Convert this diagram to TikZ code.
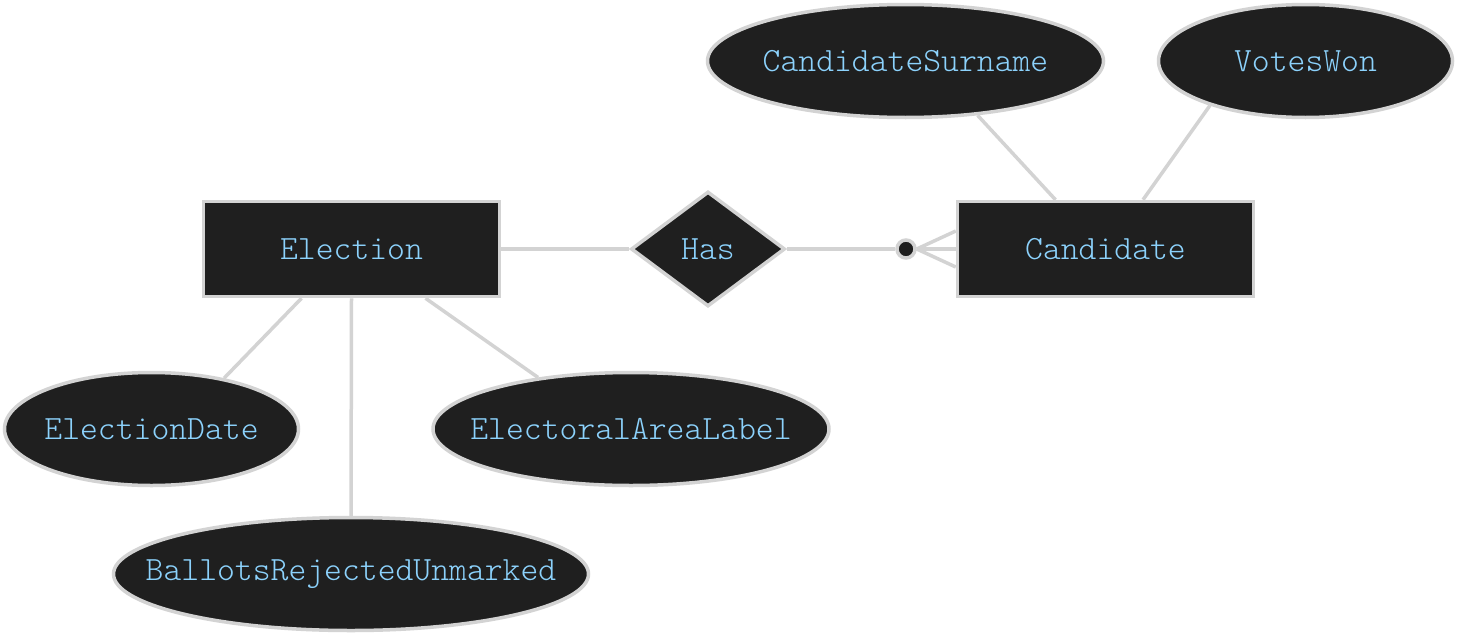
\documentclass[tikz,border=0pt]{standalone}
\usepackage{fontspec}
\setmonofont{Latin Modern Mono Light}
\usepackage{xcolor}
\usepackage{tikz}
\usetikzlibrary{shapes.geometric,positioning}
\definecolor{erfill}{HTML}{1F1F1F}
\definecolor{erline}{HTML}{D3D3D3}
\definecolor{ertext}{HTML}{8CD2FC}
\newcommand{\ername}[1]{\makebox[0pt]{#1}}
\tikzset{
  ernode/.style={draw=erline,fill=erfill,line width=3.5pt,text=ertext,
    font=\ttfamily\fontsize{34}{40}\selectfont,inner sep=0pt},
  entity/.style={ernode,rectangle,minimum width=296pt,minimum height=95pt},
  attr/.style={ernode,ellipse,minimum height=113pt},
  relation/.style={ernode,diamond,minimum width=154pt,minimum height=115pt},
  link/.style={draw=erline,line width=3.5pt}
}
\begin{document}
\begin{tikzpicture}[x=1pt,y=-1pt]
\useasboundingbox (0,0) rectangle (1458,637);
\node[entity] (election) at (351.5,249) {\ername{Election}};
\node[entity] (candidate) at (1105.5,249) {\ername{Candidate}};
\node[relation] (has) at (708,249) {\ername{Has}};
\node[attr,minimum width=396pt] (surname) at (905.5,61) {\ername{CandidateSurname}};
\node[attr,minimum width=294pt] (voteswon) at (1305.5,61) {\ername{VotesWon}};
\node[attr,minimum width=294pt] (edate) at (151.5,429) {\ername{ElectionDate}};
\node[attr,minimum width=396pt] (earea) at (631,429) {\ername{ElectoralAreaLabel}};
\node[attr,minimum width=475pt] (ballots) at (351,574) {\ername{BallotsRejectedUnmarked}};
\node[ernode,circle,minimum size=18pt] (zero) at (906,249) {};
\draw[link] ([xshift=-50pt]election.south) -- (edate.35);
\draw[link] (election.south) -- (ballots.north);
\draw[link] ([xshift=74pt]election.south) -- (earea.151);
\draw[link] (election.east) -- (has.west);
\draw[link] (has.east) -- (zero.west);
\draw[link] (zero.east) -- ([yshift=18pt]candidate.west);
\draw[link] (zero.east) -- (candidate.west);
\draw[link] (zero.east) -- ([yshift=-18pt]candidate.west);
\draw[link] ([xshift=-50pt]candidate.north) -- (surname.-37.5);
\draw[link] ([xshift=37.5pt]candidate.north) -- (voteswon.-155);
\end{tikzpicture}
\end{document}
